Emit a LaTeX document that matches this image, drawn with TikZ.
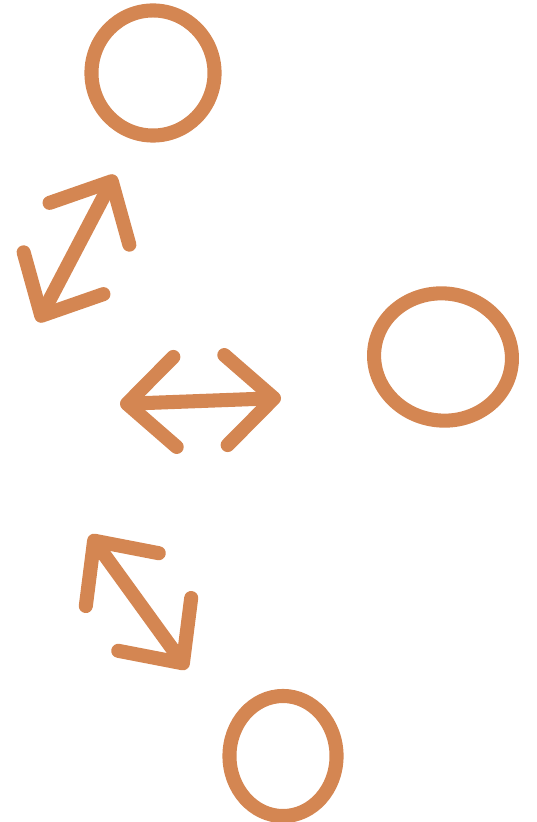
\documentclass[tikz,border=0pt]{standalone}
\usepackage{xcolor}
\usepackage{tikz}
\usetikzlibrary{arrows.meta, shapes.geometric}
\definecolor{clay}{RGB}{212,134,82}

\begin{document}
\begin{tikzpicture}[
  x=0.01cm, y=-0.01cm,
  ring/.style={draw=clay, ellipse, line width=4pt, inner sep=0pt},
  swap/.style={{Straight Barb[length=4.8mm, width=9mm, round]}-{Straight Barb[length=4.8mm, width=9mm, round]}, line width=4pt, line cap=round, color=clay}
]
\useasboundingbox (0,0) rectangle (536,822);
\node[ring, minimum width=1.23cm, minimum height=1.25cm] (top) at (153,73) {};
\node[ring, minimum width=1.38cm, minimum height=1.27cm, rotate=-8] (right) at (443,357) {};
\node[ring, minimum width=1.07cm, minimum height=1.2cm] (bottom) at (283,756) {};
\coordinate (upA) at (38,322);
\coordinate (upB) at (115,175);
\coordinate (midA) at (120,404);
\coordinate (midB) at (281,398);
\coordinate (lowA) at (90,535);
\coordinate (lowB) at (187,669);
\draw[swap] (upA) -- (upB);
\draw[swap] (midA) -- (midB);
\draw[swap] (lowA) -- (lowB);
\end{tikzpicture}
\end{document}
